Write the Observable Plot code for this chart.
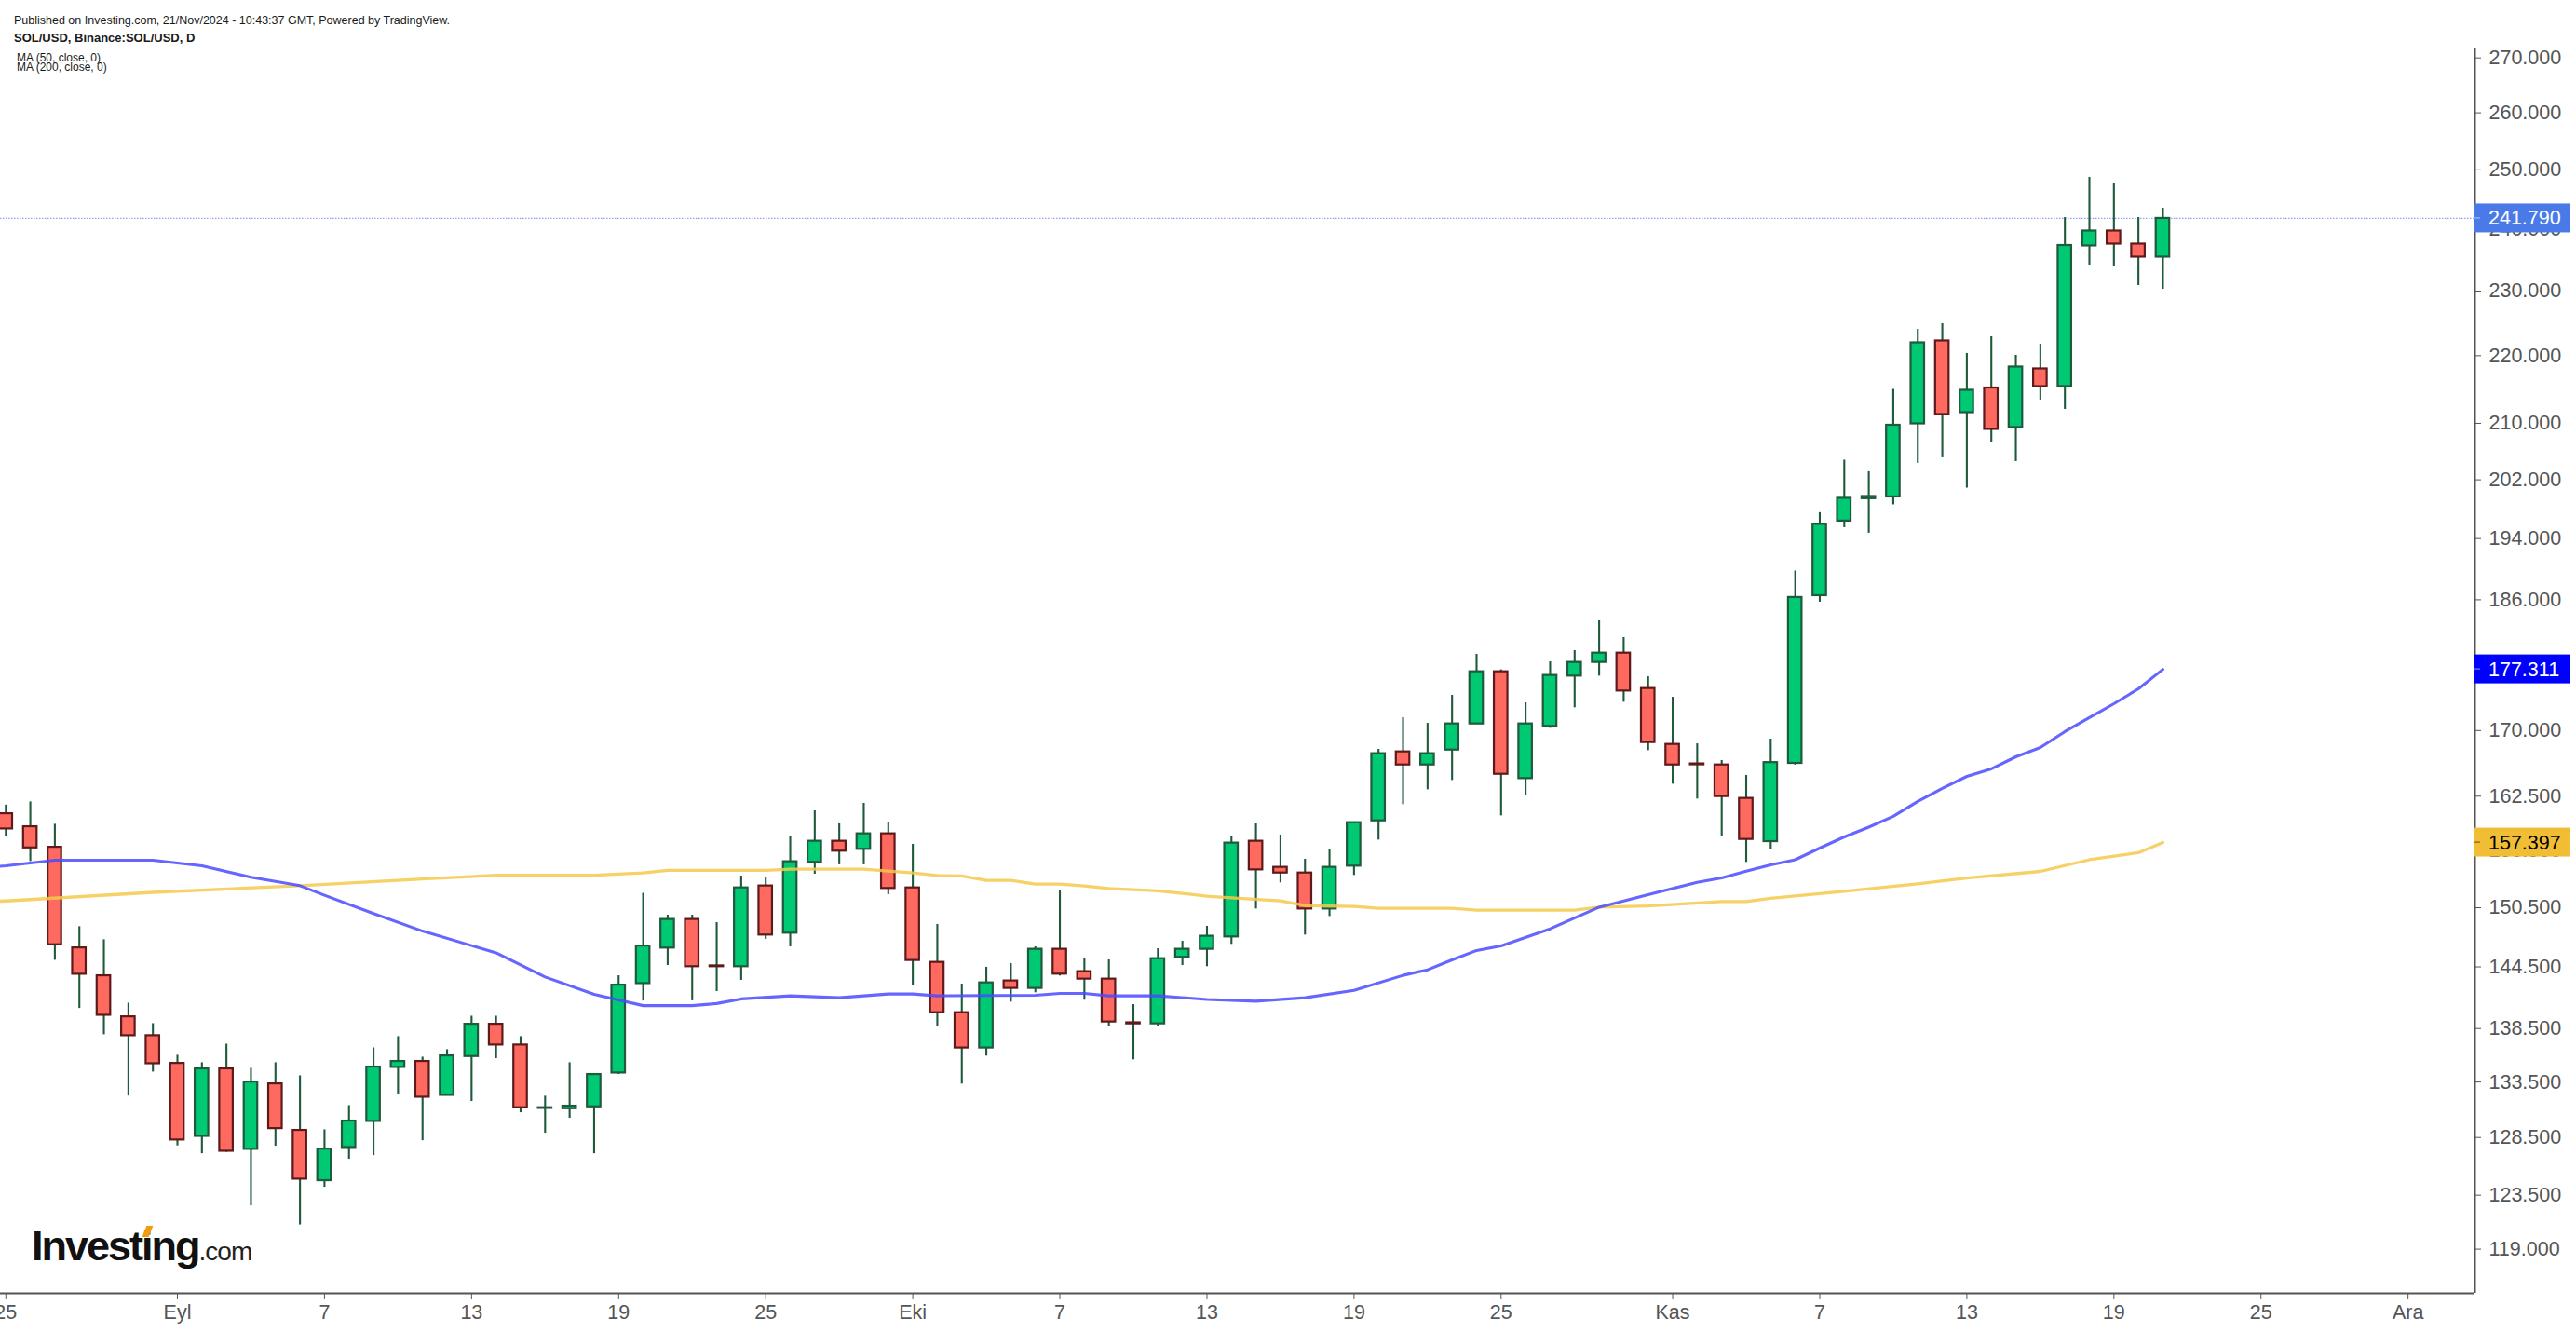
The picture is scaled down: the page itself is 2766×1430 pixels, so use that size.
<!DOCTYPE html>
<html>
<head>
<meta charset="utf-8">
<script src="https://cdn.jsdelivr.net/npm/d3@7"></script>
<script src="https://cdn.jsdelivr.net/npm/@observablehq/plot@0.6"></script>
<style>
  html, body { margin: 0; padding: 0; background: #ffffff; }
  #wrap { position: relative; width: 2766px; height: 1430px; overflow: hidden; background: #fff; }
  #chart { position: absolute; left: 0; top: 0; }
  .hdr { position: absolute; font-family: "Liberation Sans", Arial, sans-serif; color: #1a1a1a; white-space: nowrap; }
  #logo { position: absolute; left: 34px; top: 1315px; line-height: 45px; white-space: nowrap; font-family: "Liberation Sans", Arial, sans-serif; color: #111; }
  #logo .inv { font-size: 45px; font-weight: bold; letter-spacing: -2px; }
  #logo .com { font-size: 28px; font-weight: normal; letter-spacing: -1px; color: #222; }
  #logo .dot { position: relative; }
  #logo .acc { position: absolute; left: 3px; top: 4px; width: 7px; height: 12px; background: #f39c12; transform: skewX(-22deg); }
</style>
</head>
<body>
<div id="wrap">
  <div id="chart"></div>
  <div class="hdr" style="left:15px; top:15px; font-size:12.5px; line-height:15px;">Published on Investing.com, 21/Nov/2024 - 10:43:37 GMT, Powered by TradingView.</div>
  <div class="hdr" style="left:15px; top:33px; font-size:13px; line-height:15px; font-weight:bold;">SOL/USD, Binance:SOL/USD, D</div>
  <div class="hdr" style="left:18px; top:57px; font-size:12px; line-height:10px;">MA (50, close, 0)<br>MA (200, close, 0)</div>
  <div id="logo"><span class="inv">Invest<span class="dot">i<span class="acc"></span></span>ng</span><span class="com">.com</span></div>
</div>
<script>
// ---- Candles (daily SOL/USD) ----
const dates = [
  "2024-08-25","2024-08-26","2024-08-27","2024-08-28","2024-08-29","2024-08-30","2024-08-31",
  "2024-09-01","2024-09-02","2024-09-03","2024-09-04","2024-09-05","2024-09-06","2024-09-07",
  "2024-09-08","2024-09-09","2024-09-10","2024-09-11","2024-09-12","2024-09-13","2024-09-14",
  "2024-09-15","2024-09-16","2024-09-17","2024-09-18","2024-09-19","2024-09-20","2024-09-21",
  "2024-09-22","2024-09-23","2024-09-24","2024-09-25","2024-09-26","2024-09-27","2024-09-28",
  "2024-09-29","2024-09-30","2024-10-01","2024-10-02","2024-10-03","2024-10-04","2024-10-05",
  "2024-10-06","2024-10-07","2024-10-08","2024-10-09","2024-10-10","2024-10-11","2024-10-12",
  "2024-10-13","2024-10-14","2024-10-15","2024-10-16","2024-10-17","2024-10-18","2024-10-19",
  "2024-10-20","2024-10-21","2024-10-22","2024-10-23","2024-10-24","2024-10-25","2024-10-26",
  "2024-10-27","2024-10-28","2024-10-29","2024-10-30","2024-10-31","2024-11-01","2024-11-02",
  "2024-11-03","2024-11-04","2024-11-05","2024-11-06","2024-11-07","2024-11-08","2024-11-09",
  "2024-11-10","2024-11-11","2024-11-12","2024-11-13","2024-11-14","2024-11-15","2024-11-16",
  "2024-11-17","2024-11-18","2024-11-19","2024-11-20","2024-11-21"
];
const open = [
  160.55,159.12,156.89,146.40,143.62,139.62,137.82,
  135.22,128.60,134.71,127.46,133.33,129.13,124.74,
  127.62,129.93,134.85,135.40,132.28,135.86,138.91,
  136.94,131.10,131.07,131.24,134.33,142.85,146.38,
  149.29,144.60,144.52,152.77,147.89,155.27,157.54,
  156.67,158.35,152.57,144.95,140.02,136.66,143.11,
  142.38,146.26,144.03,143.29,139.05,138.95,145.45,
  146.26,147.51,157.54,154.74,154.14,150.37,154.87,
  159.77,167.53,166.03,167.74,170.78,177.02,164.48,
  170.49,176.49,178.16,179.30,174.99,168.39,166.15,
  166.03,162.25,157.50,166.21,186.53,196.35,199.40,
  199.64,209.93,222.25,211.55,215.17,209.40,218.02,
  215.38,237.26,239.70,237.56,235.44
];
const high = [
  161.50,161.86,159.39,148.55,147.22,140.94,138.97,
  135.98,135.28,137.02,134.76,135.28,134.07,129.18,
  131.35,136.67,137.73,135.80,136.50,139.68,139.68,
  137.73,132.20,135.28,134.19,143.62,152.01,149.73,
  149.73,148.97,153.82,153.62,158.01,160.87,159.44,
  161.70,159.64,157.20,148.78,142.80,144.46,144.83,
  146.51,152.25,145.39,145.20,140.80,146.32,147.07,
  148.59,158.01,159.43,158.21,155.60,156.60,159.60,
  167.82,171.51,170.85,174.17,179.15,177.25,173.28,
  178.23,179.61,183.33,181.23,176.41,173.94,168.46,
  166.53,164.83,169.00,189.73,197.49,204.76,203.13,
  214.97,224.04,224.90,220.34,222.89,220.05,221.75,
  241.93,248.69,247.74,241.93,243.49
];
const low = [
  158.00,155.36,145.16,140.43,137.91,132.22,134.42,
  127.76,127.07,127.20,122.60,127.73,121.00,124.18,
  126.59,126.91,132.39,128.22,132.28,131.72,135.66,
  130.71,128.88,130.21,127.07,134.20,141.15,144.64,
  141.17,142.07,143.17,147.26,146.51,154.01,155.01,
  155.01,151.86,142.62,138.65,133.31,135.90,141.04,
  141.95,143.60,141.23,138.71,135.55,138.71,144.64,
  144.52,146.76,150.37,153.10,147.70,149.60,153.88,
  157.67,161.56,163.22,164.27,170.78,160.32,162.60,
  170.27,172.69,176.49,173.35,167.67,163.85,162.18,
  158.08,155.27,156.70,166.00,185.70,195.47,194.72,
  198.56,204.30,205.09,200.85,207.19,204.56,213.39,
  212.03,234.16,233.86,230.88,230.29
];
const close = [
  158.88,156.82,146.72,143.77,139.77,137.82,135.19,
  128.28,134.71,127.29,133.50,129.29,124.87,127.48,
  129.96,134.88,135.40,132.11,135.92,138.91,136.94,
  131.16,131.16,131.30,134.19,142.70,146.59,149.29,
  144.52,144.52,152.57,147.70,155.34,157.54,156.47,
  158.35,152.51,145.14,140.02,136.66,142.92,142.38,
  146.26,143.78,143.29,139.13,138.95,145.32,146.26,
  147.58,157.34,154.47,154.14,150.37,154.74,159.57,
  167.32,166.03,167.32,170.78,177.02,164.97,170.78,
  176.57,178.16,179.30,174.69,168.61,166.03,166.05,
  162.46,157.74,166.30,186.30,195.91,199.45,199.70,
  209.73,221.96,211.28,214.83,209.13,218.30,215.38,
  237.33,239.70,237.56,235.44,241.79
];

// ---- Moving averages ----
const ma50Dates = [
  "2024-08-24","2024-08-25","2024-08-27","2024-08-31","2024-09-02","2024-09-04","2024-09-06",
  "2024-09-07","2024-09-09","2024-09-11","2024-09-14","2024-09-16","2024-09-18","2024-09-20",
  "2024-09-22","2024-09-23","2024-09-24","2024-09-26","2024-09-28","2024-09-30","2024-10-01",
  "2024-10-02","2024-10-06","2024-10-07","2024-10-08","2024-10-09","2024-10-11","2024-10-13",
  "2024-10-15","2024-10-17","2024-10-19","2024-10-21","2024-10-22","2024-10-23","2024-10-24",
  "2024-10-25","2024-10-27","2024-10-29","2024-10-31","2024-11-02","2024-11-03","2024-11-04",
  "2024-11-05","2024-11-06","2024-11-07","2024-11-08","2024-11-09","2024-11-10","2024-11-11",
  "2024-11-12","2024-11-13","2024-11-14","2024-11-15","2024-11-16","2024-11-17","2024-11-18",
  "2024-11-19","2024-11-20","2024-11-21"
];
const ma50Values = [
  154.7,154.9,155.5,155.5,154.9,153.7,152.8,
  151.8,149.9,148.1,145.9,143.5,141.8,140.7,
  140.7,140.9,141.35,141.65,141.47,141.83,141.83,
  141.65,141.71,141.89,141.89,141.65,141.65,141.3,
  141.13,141.47,142.19,143.66,144.21,145.2,146.14,
  146.6,148.33,150.56,151.86,153.16,153.61,154.34,
  155.0,155.55,156.8,158.01,159.08,160.26,161.91,
  163.37,164.73,165.58,166.96,168.04,169.88,171.52,
  173.17,174.95,177.311
];
const ma200Dates = [
  "2024-08-24","2024-08-25","2024-08-31","2024-09-06","2024-09-11","2024-09-14","2024-09-18",
  "2024-09-20","2024-09-21","2024-09-25","2024-09-26","2024-09-29","2024-10-01","2024-10-02",
  "2024-10-03","2024-10-04","2024-10-05","2024-10-06","2024-10-07","2024-10-08","2024-10-09",
  "2024-10-11","2024-10-12","2024-10-13","2024-10-14","2024-10-16","2024-10-17","2024-10-19",
  "2024-10-20","2024-10-23","2024-10-24","2024-10-28","2024-10-29","2024-10-31","2024-11-03",
  "2024-11-04","2024-11-05","2024-11-08","2024-11-11","2024-11-13","2024-11-16","2024-11-18",
  "2024-11-20","2024-11-21"
];
const ma200Values = [
  151.1,151.2,152.1,152.8,153.5,153.9,153.9,
  154.15,154.41,154.41,154.54,154.54,154.15,153.88,
  153.82,153.36,153.36,152.97,152.97,152.77,152.51,
  152.25,151.99,151.7,151.53,151.21,150.72,150.63,
  150.44,150.44,150.24,150.24,150.56,150.69,151.15,
  151.15,151.47,152.2,153.0,153.6,154.31,155.55,
  156.3,157.397
];

// ---- Axes ----
const yTicks = [119, 123.5, 128.5, 133.5, 138.5, 144.5, 150.5, 156.5, 162.5, 170, 186, 194, 202, 210, 220, 230, 240, 250, 260, 270];
const xTickDates = ["2024-08-25","2024-09-01","2024-09-07","2024-09-13","2024-09-19","2024-09-25","2024-10-01","2024-10-07","2024-10-13","2024-10-19","2024-10-25","2024-11-01","2024-11-07","2024-11-13","2024-11-19","2024-11-25","2024-12-01"];
const xTickLabels = ["25","Eyl","7","13","19","25","Eki","7","13","19","25","Kas","7","13","19","25","Ara"];
const xDomain = ["2024-08-24T18:45:00Z", "2024-12-03T17:30:00Z"];
const yDomain = [115.44, 271.68];

// ---- Price labels on the axis ----
const lastPrice = 241.79;
const ma50Last = 177.311;
const ma200Last = 157.397;

// ---- Build ----
const DAY = 864e5;
const halfBody = 0.2755;
const candles = dates.map((s, i) => {
  const d = new Date(s);
  return {
    date: d,
    x1: new Date(+d - halfBody * DAY),
    x2: new Date(+d + halfBody * DAY),
    open: open[i], high: high[i], low: low[i], close: close[i],
    up: close[i] >= open[i]
  };
});
const ma50 = ma50Dates.map((s, i) => ({date: new Date(s), value: ma50Values[i]}));
const ma200 = ma200Dates.map((s, i) => ({date: new Date(s), value: ma200Values[i]}));
const labelMap = new Map(xTickDates.map((s, i) => [+new Date(s), xTickLabels[i]]));
const xD = xDomain.map(s => new Date(s));

const GREEN = "#00c974", RED = "#ff6a60", GREEN_EDGE = "#1e5a3b", RED_EDGE = "#5e1a1a";

const chart = Plot.plot({
  width: 2766,
  height: 1430,
  marginLeft: 0,
  marginRight: 109,
  marginTop: 52,
  marginBottom: 42,
  style: {fontFamily: '"Liberation Sans", Arial, sans-serif', fontSize: "21.5px", color: "#555555", background: "transparent", overflow: "visible"},
  x: {type: "utc", domain: xD},
  y: {type: "log", domain: yDomain},
  marks: [
    Plot.ruleY([lastPrice], {stroke: "#8ea2ee", strokeWidth: 1.2, strokeDasharray: "1.5,1.5"}),
    Plot.ruleX(candles, {x: "date", y1: "low", y2: "high", stroke: GREEN_EDGE, strokeWidth: 2.1, clip: true}),
    Plot.rect(candles, {
      x1: "x1", x2: "x2",
      y1: d => Math.min(d.open, d.close),
      y2: d => Math.max(d.open, d.close),
      fill: d => d.up ? GREEN : RED,
      stroke: d => d.up ? GREEN_EDGE : RED_EDGE,
      strokeWidth: 2.2,
      clip: true
    }),
    Plot.line(ma200, {x: "date", y: "value", stroke: "#f5c94c", strokeOpacity: 0.85, strokeWidth: 3.3, clip: true}),
    Plot.line(ma50, {x: "date", y: "value", stroke: "#4a4aff", strokeOpacity: 0.85, strokeWidth: 3.1, clip: true}),
    Plot.ruleX([xD[1]], {stroke: "#555555", strokeWidth: 2}),
    Plot.ruleY([yDomain[0]], {stroke: "#555555", strokeWidth: 2}),
    Plot.axisY({anchor: "right", ticks: yTicks, tickSize: 6, tickPadding: 9, tickFormat: d3.format(".3f"), label: null}),
    Plot.axisX({anchor: "bottom", ticks: xTickDates.map(s => new Date(s)), tickSize: 7, tickPadding: 5, tickFormat: d => labelMap.get(+d), label: null})
  ]
});

document.getElementById("chart").appendChild(chart);

// price boxes on the right axis, positioned with the chart's own scales
const ys = chart.scale("y");
const xr = chart.scale("x").range[1];
const boxes = [
  {value: lastPrice, bg: "#4a7ae8", fg: "#ffffff"},
  {value: ma50Last, bg: "#0000ff", fg: "#ffffff"},
  {value: ma200Last, bg: "#f0bd35", fg: "#000000"}
];
const g = d3.select(chart).append("g").attr("text-anchor", "start");
for (const b of boxes) {
  const yy = ys.apply(b.value);
  g.append("rect").attr("x", xr).attr("y", yy - 15.5).attr("width", 103).attr("height", 31).attr("fill", b.bg);
  g.append("line").attr("x1", xr).attr("x2", xr + 6).attr("y1", yy).attr("y2", yy).attr("stroke", b.fg).attr("stroke-opacity", 0.6).attr("stroke-width", 1);
  g.append("text").attr("x", xr + 15).attr("y", yy).attr("dy", "0.35em")
    .attr("text-anchor", "start")
    .attr("fill", b.fg).attr("font-size", "21.5px").attr("font-family", '"Liberation Sans", Arial, sans-serif')
    .text(d3.format(".3f")(b.value));
}
</script>
</body>
</html>
